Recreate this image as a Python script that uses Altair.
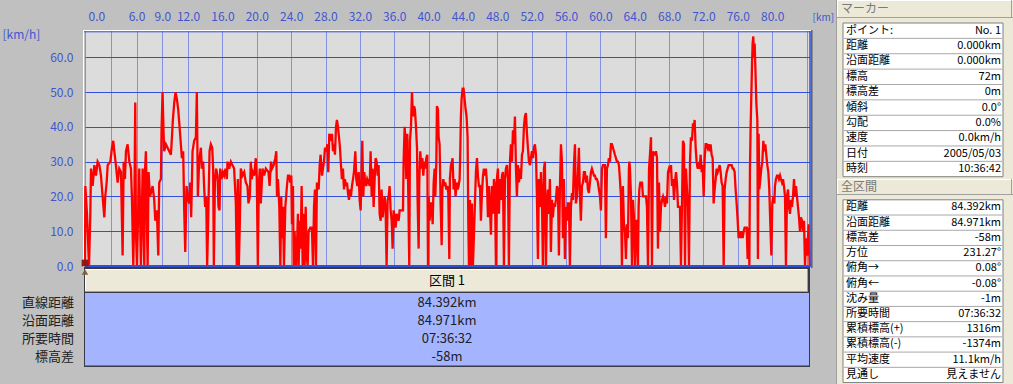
import altair as alt
import pandas as pd

# ---------------- data ----------------
# speed trace (distance km, speed km/h) in four stretches
seg_a = [(0.00,0),(0.04,23),(0.23,15),(0.47,0),(0.62,15),(0.70,28),(0.89,23),(1.09,29),(1.28,26),(1.47,30),
         (1.67,29),(1.86,26),(2.05,20),(2.25,14),(2.36,20),(2.52,24),(2.64,29),(2.95,30),(3.14,34),(3.29,36),
         (3.41,33),(3.60,29),(3.80,24),(3.99,28),(4.19,27),(4.38,3),(4.50,30),(4.65,25),(4.77,33),(4.96,35),
         (5.16,30),(5.35,28),(5.47,19),(5.62,0),(5.74,15),(5.85,47),(5.93,10),(6.05,0),(6.20,17),(6.32,28),
         (6.51,0),(6.71,28),(6.90,0),(6.98,27),(7.09,33),(7.21,13),(7.29,0),(7.40,27),(7.56,20),(7.67,21),
         (7.87,23),(8.06,19),(8.18,13),(8.37,16),(8.53,3),(8.64,24),(8.84,25),(8.91,39),(9.03,50),(9.15,38),
         (9.22,33),(9.42,35),(9.61,34),(9.81,33),(10.00,32),(10.12,37),(10.23,42),(10.39,47),(10.54,50),(10.70,48),
         (10.85,45),(11.01,40),(11.16,35),(11.28,31),(11.43,33),(11.55,16),(11.67,4),(11.82,23),(11.94,20),(12.13,18),
         (12.25,24),(12.36,14),(12.52,33),(12.71,36),(12.91,37),(13.02,50),(13.14,20),(13.29,30),(13.49,34),(13.60,28),
         (13.76,30),(13.88,22),(13.99,17),(14.11,20),(14.22,0),(14.34,13),(14.50,33),(14.65,35),(14.81,34),(14.92,28),
         (15.00,0),(15.12,24),(15.27,28),(15.43,26),(15.54,17),(15.66,16),(15.74,28),(15.89,25),(16.05,27),(16.20,26),
         (16.36,28),(16.51,25),(16.59,30),(16.78,28),(16.98,30),(17.17,29),(17.36,28),(17.56,18),(17.67,0),(17.79,25),
         (17.91,0),(18.02,12),(18.14,28),(18.33,26),(18.53,27),(18.72,24),(18.91,23),(19.03,18),(19.19,20),(19.30,30),
         (19.42,25),(19.53,27),(19.69,26),(19.88,31),(20.00,25),(20.12,0),(20.23,23),(20.35,28),(20.47,18),(20.66,28),
         (20.85,26),(21.05,28),(21.36,27)]
seg_b = [(21.49,23),(21.65,30),(21.77,28),(21.96,29),(22.15,31),(22.27,33),(22.35,20),(22.46,25),(22.62,17),(22.74,0),
         (22.85,20),(22.93,8),(23.05,17),(23.16,0),(23.32,17),(23.51,23),(23.63,26),(23.78,26),(23.90,24),(24.02,26),
         (24.09,12),(24.21,23),(24.29,0),(24.40,10),(24.56,0),(24.68,6),(24.79,15),(24.87,0),(24.99,13),(25.10,5),
         (25.22,23),(25.34,0),(25.45,15),(25.57,0),(25.69,17),(25.80,3),(25.92,0),(26.03,10),(26.23,11),(26.42,11),
         (26.54,0),(26.66,17),(26.77,22),(26.89,0),(27.00,24),(27.20,22),(27.32,29),(27.43,32),(27.59,26),(27.70,28),
         (27.82,30),(27.94,34),(28.09,33),(28.21,35),(28.32,27),(28.44,38),(28.60,36),(28.75,38),(28.87,33),(28.98,35),
         (29.10,32),(29.22,40),(29.33,42),(29.45,40),(29.57,37),(29.68,34),(29.80,29),(29.91,25),(30.03,28),(30.15,22),
         (30.26,25),(30.38,23),(30.50,24),(30.61,21),(30.73,19),(30.85,22),(30.96,20),(31.08,23),(31.20,25),(31.31,27),
         (31.47,33),(31.58,25),(31.70,23),(31.86,27),(31.97,19),(32.09,16),(32.20,28),(32.28,36),(32.40,20),(32.51,27),
         (32.63,24),(32.75,23),(32.86,25),(33.02,24),(33.14,23),(33.25,33),(33.37,20),(33.48,28),(33.60,17),(33.72,25),
         (33.83,31),(33.95,30),(34.07,26),(34.18,29),(34.30,15),(34.42,13),(34.53,22),(34.65,14),(34.77,17),(34.88,20),
         (35.00,16),(35.11,0),(35.23,19),(35.35,20),(35.46,23),(35.58,16),(35.70,13),(35.81,5),(35.93,16),(36.05,14),
         (36.16,11),(36.28,15),(36.40,14),(36.51,13),(36.63,16),(36.82,16),(37.02,16),(37.09,30),(37.21,40),(37.29,37),
         (37.40,25),(37.52,38),(37.64,20),(37.75,0),(37.83,36),(37.95,40),(38.06,50),(38.18,43),(38.30,46),(38.41,45),
         (38.53,40),(38.65,34),(38.72,19),(38.84,5),(38.92,25),(39.03,33),(39.15,28),(39.27,31),(39.38,26),(39.50,30),
         (39.62,28),(39.73,31),(39.85,32),(39.93,0),(40.00,20),(40.12,13),(40.24,18),(40.35,18),(40.47,12),(40.59,24),
         (40.70,28),(40.78,20),(40.90,30),(40.97,46),(41.09,45),(41.17,37),(41.28,35),(41.40,18),(41.52,6),(41.60,22),
         (41.71,25),(41.83,23),(41.94,24),(42.06,22),(42.18,23),(42.29,21),(42.41,2)]
seg_c = [(42.48,25),(42.60,29),(42.72,30),(42.79,31),(42.91,22),(43.03,25),(43.14,20),(43.26,24),(43.38,22),(43.49,23),
         (43.61,25),(43.69,33),(43.76,43),(43.84,48),(43.96,51),(44.07,51),(44.19,48),(44.31,45),(44.42,43),(44.54,37),
         (44.62,13),(44.70,0),(44.81,19),(44.93,0),(45.04,18),(45.16,0),(45.28,9),(45.39,18),(45.51,27),(45.63,31),
         (45.74,26),(45.86,23),(45.98,23),(46.09,13),(46.21,21),(46.33,26),(46.44,28),(46.56,26),(46.67,28),(46.79,24),
         (46.91,14),(47.02,23),(47.14,17),(47.26,9),(47.37,23),(47.49,15),(47.61,25),(47.72,23),(47.84,0),(47.95,25),
         (48.07,28),(48.19,15),(48.30,25),(48.42,19),(48.54,26),(48.65,27),(48.77,0),(48.89,25),(49.00,28),(49.12,29),
         (49.24,25),(49.35,0),(49.47,30),(49.58,35),(49.70,30),(49.82,39),(49.93,35),(50.05,43),(50.17,28),(50.28,20),
         (50.40,29),(50.52,24),(50.63,28),(50.75,25),(50.87,32),(50.98,33),(51.10,40),(51.21,43),(51.33,44),(51.45,38),
         (51.56,34),(51.68,30),(51.80,29),(51.91,31),(52.03,33),(52.15,31),(52.26,34),(52.38,35),(52.50,32),(52.61,20),
         (52.73,2),(52.84,25),(52.96,17),(53.08,27),(53.19,20),(53.31,0),(53.43,28),(53.54,30),(53.66,0),(53.78,18),
         (53.89,22),(54.01,15),(54.12,25),(54.24,4),(54.36,19),(54.47,14),(54.59,18),(54.71,17),(54.82,19),(54.94,23),
         (55.06,22),(55.17,3),(55.29,23),(55.41,35),(55.52,30),(55.64,8),(55.75,25),(55.87,2),(55.99,17),(56.10,13),
         (56.22,18),(56.34,18),(56.45,0),(56.57,17),(56.69,21),(56.80,19),(56.92,29),(57.04,35),(57.15,18),(57.27,20),
         (57.38,26),(57.50,34),(57.62,20),(57.73,13),(57.85,23),(57.97,24),(58.08,27),(58.20,27),(58.32,24),(58.43,26),
         (58.55,22),(58.66,21),(58.78,24),(58.90,27),(59.01,28),(59.13,27),(59.25,26),(59.36,26),(59.48,25),(59.60,25),
         (59.71,24),(59.83,22),(59.95,20),(60.06,16),(60.18,28),(60.30,29),(60.41,29),(60.53,29),(60.64,8),(60.76,28),
         (60.88,29),(60.99,31),(61.11,30),(61.23,35),(61.34,35),(61.46,34),(61.58,33),(61.69,32),(61.81,31),(61.92,30),
         (62.04,30),(62.16,29),(62.27,25),(62.39,20),(62.51,0),(62.62,23),(62.74,12),(62.86,10),(62.97,2),(63.09,12),
         (63.21,8),(63.32,28)]
seg_d = [(63.37,30),(63.44,28),(63.56,20),(63.68,0),(63.79,19),(63.91,14),(64.03,0),(64.14,13),(64.26,13),(64.37,0),
         (64.45,17),(64.53,22),(64.65,24),(64.76,24),(64.84,24),(64.96,20),(65.07,20),(65.19,20),(65.31,20),(65.42,17),
         (65.54,0),(65.66,28),(65.77,32),(65.89,37),(66.00,0),(66.12,33),(66.24,32),(66.35,32),(66.47,33),(66.59,31),
         (66.70,5),(66.82,24),(66.94,10),(67.05,17),(67.17,19),(67.29,20),(67.40,19),(67.52,17),(67.63,20),(67.75,18),
         (67.87,27),(67.98,28),(68.10,27),(68.22,29),(68.33,23),(68.45,25),(68.57,19),(68.68,24),(68.80,27),(68.91,24),
         (69.03,17),(69.15,17),(69.26,17),(69.38,0),(69.50,18),(69.61,36),(69.73,35),(69.85,0),(69.96,28),(70.08,22),
         (70.20,17),(70.31,0),(70.43,30),(70.54,37),(70.66,36),(70.78,41),(70.89,40),(70.97,42),(71.09,34),(71.20,30),
         (71.32,28),(71.44,29),(71.55,28),(71.67,32),(71.79,27),(71.90,29),(72.02,20),(72.14,31),(72.25,35),(72.37,35),
         (72.48,34),(72.60,35),(72.72,33),(72.83,35),(72.95,32),(73.07,31),(73.18,18),(73.30,22),(73.42,25),(73.53,28),
         (73.65,27),(73.77,28),(73.88,29),(74.00,27),(74.11,24),(74.23,23),(74.35,0),(74.46,22),(74.58,25),(74.70,27),
         (74.81,28),(74.93,29),(75.05,29),(75.16,29),(75.28,29),(75.40,28),(75.51,28),(75.63,27),(75.74,22),(75.86,18),
         (75.98,13),(76.09,8),(76.21,10),(76.33,8),(76.44,10),(76.56,8),(76.68,10),(76.79,11),(76.91,11),(77.03,11),
         (77.14,2),(77.26,11),(77.34,0),(77.41,28),(77.49,40),(77.57,49),(77.65,58),(77.72,64),(77.80,66),(77.88,60),
         (77.96,64),(78.03,58),(78.15,47),(78.27,42),(78.34,2),(78.42,38),(78.50,22),(78.62,25),(78.73,28),(78.85,30),
         (78.97,36),(79.08,33),(79.20,35),(79.31,32),(79.43,29),(79.55,27),(79.66,22),(79.78,12),(79.90,3),(80.01,18),
         (80.13,20),(80.25,18),(80.32,23),(80.44,25),(80.56,26),(80.67,26),(80.79,25),(80.91,26),(81.02,25),(81.14,24),
         (81.26,25),(81.37,23),(81.49,20),(81.60,0),(81.72,20),(81.84,22),(81.95,17),(82.07,15),(82.19,19),(82.30,17),
         (82.42,20),(82.54,25),(82.65,20),(82.77,23),(82.88,20),(83.00,17),(83.12,14),(83.23,10),(83.35,14),(83.47,13),
         (83.58,10),(83.70,13),(83.82,0),(83.93,8),(84.05,3),(84.17,8),(84.24,12),(84.36,0)]

x_grid_km = [0, 3, 6, 9, 12, 16, 20, 24, 28, 32, 36, 40, 44, 48, 52, 56, 60, 64, 68, 72, 76, 80, 84]
x_unlabeled_km = [3, 84]
y_ticks_kmh = [0, 10, 20, 30, 40, 50, 60]
x_domain_km = [0, 84.4]
y_domain_kmh = [0, 67.57]

marker_header = "マーカー"
marker_labels = ["ポイント:", "距離", "沿面距離", "標高", "標高差", "傾斜", "勾配", "速度", "日付", "時刻"]
marker_values = ["No. 1", "0.000km", "0.000km", "72m", "0m", "0.0°", "0.0%", "0.0km/h", "2005/05/03", "10:36:42"]

total_header = "全区間"
total_labels = ["距離", "沿面距離", "標高差", "方位", "俯角→", "俯角←", "沈み量", "所要時間",
                "累積標高(+)", "累積標高(-)", "平均速度", "見通し"]
total_values = ["84.392km", "84.971km", "-58m", "231.27° ", "0.08° ", "-0.08° ", "-1m", "07:36:32",
                "1316m", "-1374m", "11.1km/h", "見えません"]

section_header = "区間 1"
section_labels = ["直線距離", "沿面距離", "所要時間", "標高差"]
section_values = ["84.392km", "84.971km", "07:36:32", "-58m"]

# ---------------- layout / style ----------------
FONT = "Noto Sans CJK JP"
BLUE = "#3050DC"
LABEL_BLUE = "#4056D0"
PL, PT, W, H = 85, 31, 725, 235


def X(a):
    return a - PL


def Y(a):
    return a - PT


one = pd.DataFrame({"k": [0]})


def box(x1, y1, x2, y2, fill, stroke=None, sw=1):
    kw = dict(fill=fill)
    if stroke:
        kw.update(stroke=stroke, strokeWidth=sw)
    else:
        kw.update(strokeWidth=0)
    return alt.Chart(one).mark_rect(**kw).encode(
        x=alt.value(X(x1)), x2=alt.value(X(x2)), y=alt.value(Y(y1)), y2=alt.value(Y(y2)))


def hline(x1, x2, y, color, w=1):
    return alt.Chart(one).mark_rule(color=color, strokeWidth=w).encode(
        x=alt.value(X(x1)), x2=alt.value(X(x2)), y=alt.value(Y(y)))


def vline(x, y1, y2, color, w=1):
    return alt.Chart(one).mark_rule(color=color, strokeWidth=w).encode(
        x=alt.value(X(x)), y=alt.value(Y(y1)), y2=alt.value(Y(y2)))


trace = pd.DataFrame(seg_a + seg_b + seg_c + seg_d, columns=["km", "speed"])

xscale = alt.Scale(domain=x_domain_km, nice=False, zero=False)
yscale = alt.Scale(domain=y_domain_kmh, nice=False)

hidden = ",".join(str(v) for v in x_unlabeled_km)
x_axis = alt.Axis(orient="top", values=x_grid_km, grid=True, gridColor="#2846F0", gridDash=[1, 1],
                  gridWidth=1, ticks=False, domain=False, labelOverlap=False,
                  labelExpr=f"indexof([{hidden}], datum.value) >= 0 ? '' : format(datum.value, '.1f')",
                  labelFont=FONT, labelFontSize=12, labelColor=LABEL_BLUE, labelPadding=8,
                  labelFlush=True, labelFlushOffset=-3,
                  title="[km]", titleAngle=0, titleX=727, titleY=-14, titleAlign="left",
                  titleBaseline="middle", titleFont=FONT, titleFontSize=10, titleFontWeight="normal",
                  titleColor=LABEL_BLUE)
y_axis = alt.Axis(values=y_ticks_kmh, format=".1f", grid=True, gridColor=BLUE, gridWidth=1,
                  ticks=False, domain=False, labelOverlap=False, labelFont=FONT, labelFontSize=12,
                  labelColor=LABEL_BLUE, labelPadding=12,
                  title="[km/h]", titleAngle=0, titleX=-83, titleY=3, titleAlign="left",
                  titleBaseline="middle", titleFont=FONT, titleFontSize=12, titleFontWeight="normal",
                  titleColor=LABEL_BLUE)

line = alt.Chart(trace).mark_line(color="#FF0000", strokeWidth=2.3, strokeJoin="miter").encode(
    x=alt.X("km:Q", scale=xscale, axis=x_axis),
    y=alt.Y("speed:Q", scale=yscale, axis=y_axis),
    order="km:Q")

zero_rule = alt.Chart(pd.DataFrame({"speed": [y_ticks_kmh[0]]})).mark_rule(
    color=BLUE, strokeWidth=2).encode(
    y=alt.Y("speed:Q", scale=yscale, axis=None), x=alt.value(0), x2=alt.value(W))

marker_pt = pd.DataFrame({"km": [trace.km.iloc[0]], "speed": [y_ticks_kmh[0]]})
marker_a = alt.Chart(marker_pt).mark_point(shape="square", filled=True, color="#8B1A1A", size=45,
                                           opacity=1, yOffset=-3).encode(
    x=alt.X("km:Q", scale=xscale, axis=None), y=alt.Y("speed:Q", scale=yscale, axis=None))
marker_b = alt.Chart(marker_pt).mark_point(shape="triangle-up", filled=True, color="#7A6040", size=40,
                                           opacity=1, yOffset=6).encode(
    x=alt.X("km:Q", scale=xscale, axis=None), y=alt.Y("speed:Q", scale=yscale, axis=None))

# plot frame
frame = [
    hline(83, 811, 30.5, "white", 1),
    vline(83.5, 30, 267, "white", 1),
    hline(84, 810, 31.8, BLUE, 1),
    vline(810, 31, 267, BLUE, 1.5),
    vline(811.8, 30, 268, "#606060", 1.5),
]

# bottom table
sec_df = pd.DataFrame({"row": list(range(len(section_labels))), "label": section_labels,
                       "value": section_values})
sec_y = alt.Y("row:Q", scale=alt.Scale(domain=[0, 3], range=[Y(303), Y(357)]), axis=None)
bottom = [
    box(84, 267, 810, 367, "#3A3A46"),
    box(85, 269, 808, 292, "#ECE9D8"),
    hline(85, 808, 269.5, "white"),
    vline(85.5, 269, 292, "white"),
    hline(85, 808, 291.5, "#A0A0A0"),
    vline(807.5, 269, 292, "#A0A0A0"),
    box(85, 293, 809, 365.5, "#A4B4FF"),
    alt.Chart(pd.DataFrame({"t": [section_header]})).mark_text(
        font=FONT, fontSize=13, color="black", align="center", baseline="middle").encode(
        x=alt.value(X(447)), y=alt.value(Y(281)), text="t:N"),
    alt.Chart(sec_df).mark_text(font=FONT, fontSize=13, color="#202020", align="right",
                                baseline="middle").encode(x=alt.value(X(74)), y=sec_y, text="label:N"),
    alt.Chart(sec_df).mark_text(font=FONT, fontSize=13, color="#202020", align="center",
                                baseline="middle").encode(x=alt.value(X(447)), y=sec_y, text="value:N"),
]


def panel_table(labels, values, top, step):
    n = len(labels)
    ys = alt.Scale(domain=[0, n], range=[Y(top), Y(top + n * step)])
    df = pd.DataFrame({"pos": [i + 0.5 for i in range(n)], "label": labels, "value": values})
    sep = pd.DataFrame({"pos": list(range(1, n))})
    return [
        box(843, top, 1003, top + n * step, "white", "#808080", 1),
        alt.Chart(sep).mark_rule(color="#A8A8A8", strokeWidth=1).encode(
            x=alt.value(X(844)), x2=alt.value(X(1002)), y=alt.Y("pos:Q", scale=ys, axis=None)),
        alt.Chart(df).mark_text(font=FONT, fontSize=11, color="black", align="left",
                                baseline="middle").encode(
            x=alt.value(X(846)), y=alt.Y("pos:Q", scale=ys, axis=None), text="label:N"),
        alt.Chart(df).mark_text(font=FONT, fontSize=11, color="black", align="right",
                                baseline="middle").encode(
            x=alt.value(X(1001)), y=alt.Y("pos:Q", scale=ys, axis=None), text="value:N"),
    ]


def panel_header(text, y1, y2):
    return [
        box(837, y1, 1013, y2, "#ECE9D8"),
        hline(837, 1013, y1 + 0.5, "white"),
        vline(837.5, y1, y2, "white"),
        hline(837, 1013, y2 - 0.5, "#A0A0A0"),
        vline(1011.5, y1, y2, "#A0A0A0"),
        alt.Chart(pd.DataFrame({"t": [text]})).mark_text(
            font=FONT, fontSize=12, color="#7A7A7A", align="left", baseline="middle").encode(
            x=alt.value(X(841)), y=alt.value(Y((y1 + y2) / 2)), text="t:N"),
    ]


panel = [box(836, 0, 1013, 384, "#ECE9D8"), vline(836.5, 0, 384, "#A0A0A0")]
panel += panel_header(marker_header, 0, 18)
panel += panel_table(marker_labels, marker_values, 23, 15.37)
panel += panel_header(total_header, 179, 195)
panel += panel_table(total_labels, total_values, 199.8, 15.23)

chart = alt.layer(
    *bottom, *panel, line, zero_rule, *frame, marker_b, marker_a
).resolve_scale(x="independent", y="independent").properties(
    width=W, height=H,
    padding={"left": PL, "top": PT, "right": 1013 - PL - W, "bottom": 384 - PT - H},
    autosize=alt.AutoSizeParams(type="none"),
    background="#C0C0C0",
).configure_view(fill="#DCDCDC", stroke=None)

chart.save("out.html", embed_options={"renderer": "svg", "actions": False})
